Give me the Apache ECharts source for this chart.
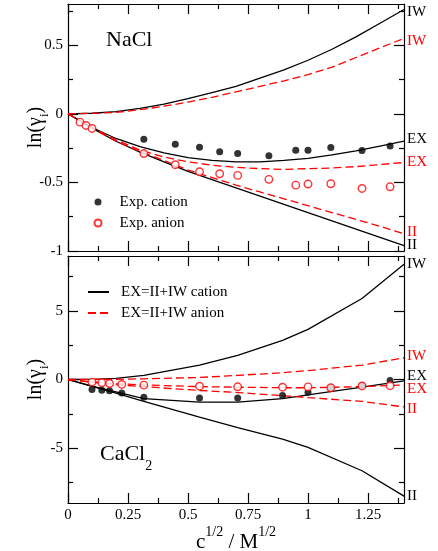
<!DOCTYPE html>
<html>
<head>
<meta charset="utf-8">
<script src="https://cdn.jsdelivr.net/npm/echarts@6/dist/echarts.min.js"></script>
<style>
  html, body { margin: 0; padding: 0; background: #fff; }
  #chart { width: 438px; height: 551px; }
</style>
</head>
<body>
<div id="chart"></div>
<script>
// ln(gamma_i) vs sqrt(c), NaCl (top) and CaCl2 (bottom)
var FONT = 'Liberation Serif, DejaVu Serif, serif';
var RED = '#ff0000';

// ticks
var X_MAJOR = [0, 0.25, 0.5, 0.75, 1, 1.25];
var X_MINOR = [0.125, 0.375, 0.625, 0.875, 1.125, 1.375];
var NACL_Y_MAJOR = [-1, -0.5, 0, 0.5];
var NACL_Y_MINOR = [-0.75, -0.25, 0.25, 0.75];
var CACL_Y_MAJOR = [-5, 0, 5];
var CACL_Y_MINOR = [-7.5, -2.5, 2.5, 7.5];

// NaCl model curves
var NACL_X = [0, 0.1, 0.2, 0.3, 0.4, 0.5, 0.6, 0.7, 0.8, 0.9, 1.0, 1.1, 1.2, 1.3, 1.4];
var NACL_CAT_IW = [0, 0.004, 0.015, 0.04, 0.07, 0.11, 0.155, 0.2, 0.26, 0.32, 0.39, 0.47, 0.56, 0.66, 0.76];
var NACL_CAT_EX = [0, -0.1, -0.18, -0.24, -0.285, -0.32, -0.34, -0.35, -0.35, -0.34, -0.325, -0.3, -0.27, -0.235, -0.2];
var NACL_CAT_II = [0, -0.105, -0.2, -0.28, -0.35, -0.42, -0.48, -0.54, -0.6, -0.66, -0.72, -0.78, -0.84, -0.9, -0.96];
var NACL_AN_IW = [0, 0.003, 0.01, 0.03, 0.055, 0.085, 0.12, 0.16, 0.2, 0.24, 0.285, 0.34, 0.41, 0.48, 0.55];
var NACL_AN_EX = [0, -0.1, -0.19, -0.265, -0.315, -0.35, -0.375, -0.39, -0.4, -0.405, -0.4, -0.395, -0.385, -0.37, -0.355];
var NACL_AN_II = [0, -0.105, -0.2, -0.275, -0.34, -0.41, -0.465, -0.52, -0.57, -0.62, -0.67, -0.72, -0.77, -0.82, -0.875];

// NaCl experiment
var NACL_CAT_PX = [0.316, 0.447, 0.548, 0.632, 0.707, 0.837, 0.949, 1.0, 1.095, 1.225, 1.342];
var NACL_CAT_PY = [-0.185, -0.222, -0.244, -0.276, -0.29, -0.305, -0.266, -0.266, -0.246, -0.268, -0.234];
var NACL_AN_PX = [0.05, 0.075, 0.1, 0.316, 0.447, 0.548, 0.632, 0.707, 0.837, 0.949, 1.0, 1.095, 1.225, 1.342];
var NACL_AN_PY = [-0.061, -0.085, -0.107, -0.29, -0.371, -0.422, -0.437, -0.449, -0.478, -0.52, -0.512, -0.51, -0.544, -0.532];

// CaCl2 model curves
var CACL_X = [0, 0.1, 0.2, 0.316, 0.548, 0.707, 0.894, 1.0, 1.225, 1.4];
var CACL_CAT_IW = [0, 0.01, 0.08, 0.3, 1.05, 1.75, 2.85, 3.65, 5.9, 8.4];
var CACL_CAT_EX = [0, -0.48, -0.9, -1.4, -1.65, -1.65, -1.4, -1.12, -0.55, -0.1];
var CACL_CAT_II = [0, -0.5, -1.0, -1.6, -2.75, -3.5, -4.35, -4.95, -6.65, -8.5];
var CACL_AN_IW = [0, 0, 0.02, 0.05, 0.15, 0.3, 0.5, 0.65, 1.05, 1.58];
var CACL_AN_EX = [0, -0.18, -0.3, -0.4, -0.52, -0.56, -0.6, -0.6, -0.52, -0.4];
var CACL_AN_II = [0, -0.2, -0.38, -0.52, -0.8, -0.95, -1.18, -1.32, -1.6, -2.0];

// CaCl2 experiment
var CACL_PX = [0.1, 0.141, 0.173, 0.224, 0.316, 0.548, 0.707, 0.894, 1.0, 1.095, 1.225, 1.342];
var CACL_CAT_PY = [-0.73, -0.78, -0.82, -0.99, -1.3, -1.35, -1.35, -1.17, -0.93, -0.62, -0.43, -0.08];
var CACL_AN_PY = [-0.19, -0.24, -0.29, -0.36, -0.41, -0.49, -0.53, -0.56, -0.54, -0.6, -0.47, -0.45];

var CATION = 'EX=II+IW cation';
var ANION = 'EX=II+IW anion';

function pairs(xs, ys) {
  return xs.map(function (x, i) { return [x, ys[i]]; });
}

var axisLine = { onZero: false, lineStyle: { color: '#000', width: 1.2 } };
var noLine = { show: false, onZero: false };
var tickStyle = { color: '#000', width: 1.2 };
var labelStyle = { color: '#000', fontFamily: FONT, fontSize: 15, margin: 5 };

function xAxes(g, showLabels) {
  var base = { type: 'value', gridIndex: g, min: 0, max: 1.4, splitLine: { show: false }, nameMoveOverlap: false };
  var major = { inside: true, length: 10, customValues: X_MAJOR, lineStyle: tickStyle };
  var minor = { inside: true, length: 5, customValues: X_MINOR, lineStyle: tickStyle };
  var bottom = Object.assign({}, base, {
    position: 'bottom', axisLine: axisLine, axisTick: major,
    axisLabel: Object.assign({ show: showLabels, customValues: X_MAJOR }, labelStyle)
  });
  if (showLabels) {
    bottom.name = '{m|c}{s|1/2}{m| / M}{s|1/2}';
    bottom.nameLocation = 'middle';
    bottom.nameGap = 22;
    bottom.nameTextStyle = {
      rich: {
        m: { fontFamily: FONT, fontSize: 21, lineHeight: 21, padding: [7, 0, 0, 0], verticalAlign: 'top', color: '#000' },
        s: { fontFamily: FONT, fontSize: 14, lineHeight: 14, verticalAlign: 'top', color: '#000' }
      }
    };
  }
  return [
    bottom,
    Object.assign({}, base, { position: 'bottom', axisLine: noLine, axisTick: minor, axisLabel: { show: false } }),
    Object.assign({}, base, { position: 'top', axisLine: axisLine, axisTick: major, axisLabel: { show: false } }),
    Object.assign({}, base, { position: 'top', axisLine: noLine, axisTick: minor, axisLabel: { show: false } })
  ];
}

function yAxes(g, min, max, majors, minors) {
  var base = { type: 'value', gridIndex: g, min: min, max: max, splitLine: { show: false }, nameMoveOverlap: false };
  var major = { inside: true, length: 10, customValues: majors, lineStyle: tickStyle };
  var minor = { inside: true, length: 5, customValues: minors, lineStyle: tickStyle };
  return [
    Object.assign({}, base, {
      position: 'left', axisLine: axisLine, axisTick: major,
      axisLabel: Object.assign({ customValues: majors }, labelStyle),
      name: '{m|ln(γ}{s|i}{m|)}', nameLocation: 'middle', nameGap: 22,
      nameTextStyle: {
        rich: {
          m: { fontFamily: FONT, fontSize: 20, lineHeight: 20, verticalAlign: 'top', color: '#000' },
          s: { fontFamily: FONT, fontSize: 13, lineHeight: 13, padding: [12, 0, 0, 0], verticalAlign: 'top', color: '#000' }
        }
      }
    }),
    Object.assign({}, base, { position: 'left', axisLine: noLine, axisTick: minor, axisLabel: { show: false } }),
    Object.assign({}, base, { position: 'right', axisLine: axisLine, axisTick: major, axisLabel: { show: false } }),
    Object.assign({}, base, { position: 'right', axisLine: noLine, axisTick: minor, axisLabel: { show: false } })
  ];
}

function curve(g, name, color, dashed, xs, ys, tag, dy) {
  return {
    type: 'line', name: name, xAxisIndex: g * 4, yAxisIndex: g * 4,
    data: pairs(xs, ys), showSymbol: false, symbol: 'none', z: 2,
    lineStyle: { color: color, width: 1.3, type: dashed ? [8, 4] : 'solid' },
    itemStyle: { color: color },
    endLabel: {
      show: true, formatter: tag, distance: 3, offset: [0, dy],
      color: color, fontFamily: FONT, fontSize: 15
    }
  };
}

function points(g, name, filled, xs, ys) {
  return {
    type: 'scatter', name: name, xAxisIndex: g * 4, yAxisIndex: g * 4,
    data: pairs(xs, ys), symbol: 'circle', symbolSize: filled ? 7 : 7.5, z: 5,
    itemStyle: filled ? { color: '#000' } : { color: '#fff', borderColor: RED, borderWidth: 1.4 }
  };
}

var chart = echarts.init(document.getElementById('chart'));

var option = {
  animation: false,
  backgroundColor: '#fff',
  grid: [
    { left: 68, right: 34, top: 4, height: 247, outerBoundsMode: 'none' },
    { left: 68, right: 34, top: 256, height: 247, outerBoundsMode: 'none' }
  ],
  xAxis: xAxes(0, false).concat(xAxes(1, true)),
  yAxis: yAxes(0, -1, 0.8, NACL_Y_MAJOR, NACL_Y_MINOR).concat(yAxes(1, -9, 9, CACL_Y_MAJOR, CACL_Y_MINOR)),
  title: [
    {
      text: 'NaCl', left: 106, top: 29, padding: 0,
      textStyle: { fontFamily: FONT, fontSize: 22, fontWeight: 'normal', color: '#000' }
    },
    {
      text: '{n|CaCl}{s|2}', left: 100, top: 443, padding: 0,
      textStyle: {
        fontWeight: 'normal',
        rich: {
          n: { fontFamily: FONT, fontSize: 22, lineHeight: 22, fontWeight: 'normal', verticalAlign: 'top', color: '#000' },
          s: { fontFamily: FONT, fontSize: 14, lineHeight: 14, fontWeight: 'normal', padding: [16, 0, 0, 0], verticalAlign: 'top', color: '#000' }
        }
      }
    }
  ],
  legend: [
    {
      data: ['Exp. cation', 'Exp. anion'], orient: 'vertical', left: 93.5, top: 191.5,
      padding: 0, itemGap: 0, itemWidth: 7, itemHeight: 7, selectedMode: false,
      textStyle: { fontFamily: FONT, fontSize: 15, color: '#000', lineHeight: 21, padding: [0, 0, 0, 13] }
    },
    {
      data: [CATION, ANION], orient: 'vertical', left: 87, top: 281.5,
      padding: 0, itemGap: 0, itemWidth: 21, itemHeight: 10, selectedMode: false,
      itemStyle: { color: 'transparent', borderColor: 'transparent', borderWidth: 0, opacity: 0 },
      textStyle: { fontFamily: FONT, fontSize: 15, color: '#000', lineHeight: 21, padding: [0, 0, 0, 7] }
    }
  ],
  series: [
    curve(0, CATION, '#000', false, NACL_X, NACL_CAT_IW, 'IW', 3),
    curve(0, CATION, '#000', false, NACL_X, NACL_CAT_EX, 'EX', -2),
    curve(0, CATION, '#000', false, NACL_X, NACL_CAT_II, 'II', 0),
    curve(0, ANION, RED, true, NACL_X, NACL_AN_IW, 'IW', 3),
    curve(0, ANION, RED, true, NACL_X, NACL_AN_EX, 'EX', 0),
    curve(0, ANION, RED, true, NACL_X, NACL_AN_II, 'II', -2),
    points(0, 'Exp. cation', true, NACL_CAT_PX, NACL_CAT_PY),
    points(0, 'Exp. anion', false, NACL_AN_PX, NACL_AN_PY),

    curve(1, CATION, '#000', false, CACL_X, CACL_CAT_IW, 'IW', 0),
    curve(1, CATION, '#000', false, CACL_X, CACL_CAT_EX, 'EX', -5),
    curve(1, CATION, '#000', false, CACL_X, CACL_CAT_II, 'II', 0),
    curve(1, ANION, RED, true, CACL_X, CACL_AN_IW, 'IW', -2),
    curve(1, ANION, RED, true, CACL_X, CACL_AN_EX, 'EX', 4),
    curve(1, ANION, RED, true, CACL_X, CACL_AN_II, 'II', 2),
    points(1, 'Exp. cation', true, CACL_PX, CACL_CAT_PY),
    points(1, 'Exp. anion', false, CACL_PX, CACL_AN_PY)
  ]
};

chart.setOption(option);
</script>
</body>
</html>
